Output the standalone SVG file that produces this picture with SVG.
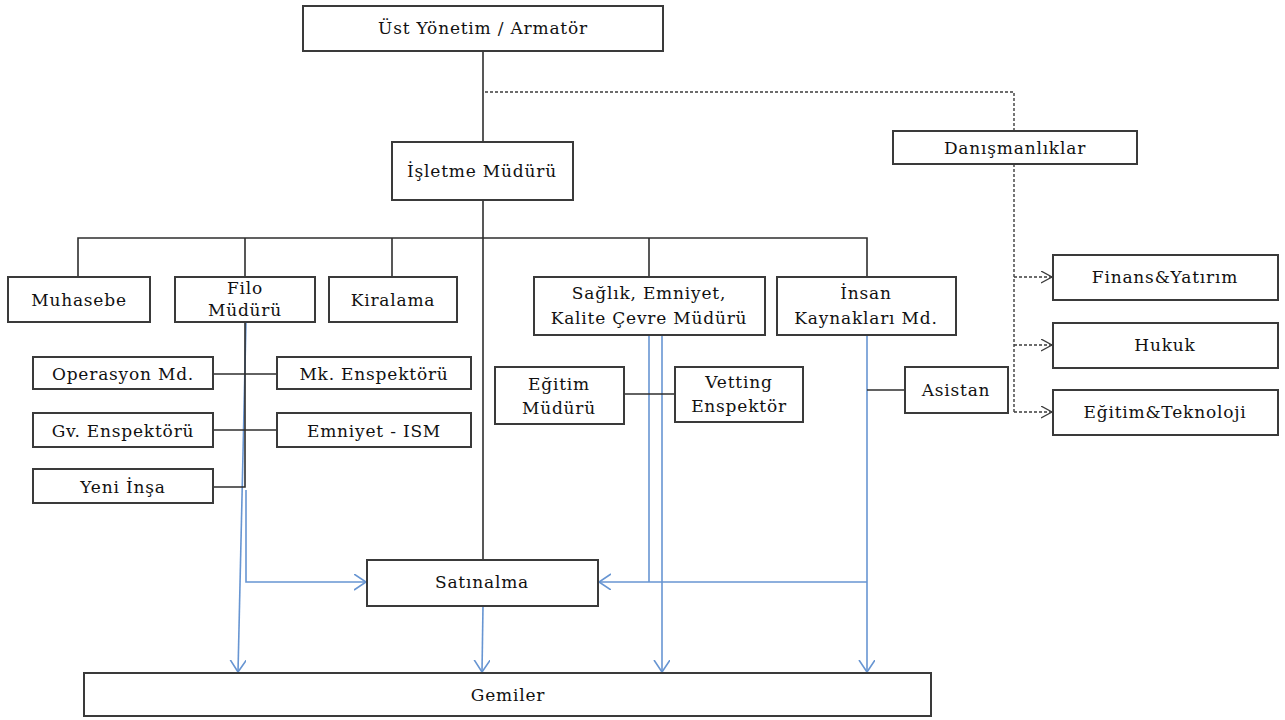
<svg xmlns="http://www.w3.org/2000/svg" width="1285" height="720" viewBox="0 0 1285 720">
  <defs>
    <style>
      .box { fill: #ffffff; stroke: #3a3a3a; stroke-width: 2; }
      .lbl { font-family: "DejaVu Serif", "Liberation Serif", serif; font-size: 17px; letter-spacing: 0.8px; fill: #111111; text-anchor: middle; dominant-baseline: central; }
      .solid { fill: none; stroke: #2e2e2e; stroke-width: 1.6; }
      .dash { fill: none; stroke: #3c3c3c; stroke-width: 1.4; stroke-dasharray: 3 2; }
      .blue { fill: none; stroke: #6795d2; stroke-width: 1.6; }
    </style>
    <marker id="arrBlue" markerUnits="userSpaceOnUse" markerWidth="16" markerHeight="20" refX="12" refY="8" orient="auto">
      <path d="M0,0 L12,8 L0,16" fill="none" stroke="#6795d2" stroke-width="1.6"/>
    </marker>
    <marker id="arrDash" markerUnits="userSpaceOnUse" markerWidth="14" markerHeight="16" refX="11" refY="6" orient="auto">
      <path d="M0,0 L11,6 L0,12" fill="none" stroke="#3c3c3c" stroke-width="1.3"/>
    </marker>
  </defs>
  <rect width="1285" height="720" fill="#ffffff"/>

  <!-- connectors -->
  <g id="connectors">
    <!-- supply / ship flows (blue), drawn beneath the solid hierarchy lines -->
    <path class="blue" d="M246,322 L238,672" marker-end="url(#arrBlue)"/>
    <path class="blue" d="M246,490 V582 H366" marker-end="url(#arrBlue)"/>
    <path class="blue" d="M483,606 L482,672" marker-end="url(#arrBlue)"/>
    <path class="blue" d="M649,335 V582"/>
    <path class="blue" d="M662,335 V672" marker-end="url(#arrBlue)"/>
    <path class="blue" d="M867,335 V672" marker-end="url(#arrBlue)"/>
    <path class="blue" d="M867,582 H599" marker-end="url(#arrBlue)"/>

    <!-- hierarchy (solid) -->
    <path class="solid" d="M483,51 V142"/>
    <path class="solid" d="M483,200 V560"/>
    <path class="solid" d="M78,277 V238 H867 V277"/>
    <path class="solid" d="M245,238 V277"/>
    <path class="solid" d="M392,238 V277"/>
    <path class="solid" d="M649,238 V277"/>
    <path class="solid" d="M213,374 H277"/>
    <path class="solid" d="M213,430 H277"/>
    <path class="solid" d="M245,322 V487 H213"/>
    <path class="solid" d="M624,394 H675"/>
    <path class="solid" d="M867,390 H905"/>

    <!-- advisory (dashed) -->
    <path class="dash" d="M485,92 H1014 V131"/>
    <path class="dash" d="M1014,164 V412"/>
    <path class="dash" d="M1014,277 H1052" marker-end="url(#arrDash)"/>
    <path class="dash" d="M1014,345 H1052" marker-end="url(#arrDash)"/>
    <path class="dash" d="M1014,412 H1052" marker-end="url(#arrDash)"/>
  </g>

  <!-- nodes -->
  <g id="ust-yonetim">
    <rect class="box" x="303" y="6" width="360" height="45"/>
    <text class="lbl" x="483" y="28">Üst Yönetim / Armatör</text>
  </g>
  <g id="isletme-muduru">
    <rect class="box" x="392" y="142" width="181" height="58"/>
    <text class="lbl" x="482" y="171">İşletme Müdürü</text>
  </g>
  <g id="danismanliklar">
    <rect class="box" x="893" y="131" width="244" height="33"/>
    <text class="lbl" x="1015" y="148">Danışmanlıklar</text>
  </g>
  <g id="finans">
    <rect class="box" x="1053" y="255" width="225" height="45"/>
    <text class="lbl" x="1165" y="277">Finans&amp;Yatırım</text>
  </g>
  <g id="hukuk">
    <rect class="box" x="1053" y="323" width="225" height="45"/>
    <text class="lbl" x="1165" y="345">Hukuk</text>
  </g>
  <g id="egitim-teknoloji">
    <rect class="box" x="1053" y="390" width="225" height="45"/>
    <text class="lbl" x="1165" y="412">Eğitim&amp;Teknoloji</text>
  </g>
  <g id="muhasebe">
    <rect class="box" x="8" y="277" width="142" height="45"/>
    <text class="lbl" x="79" y="300">Muhasebe</text>
  </g>
  <g id="filo-muduru">
    <rect class="box" x="175" y="277" width="140" height="45"/>
    <text class="lbl" x="245" y="288">Filo</text>
    <text class="lbl" x="245" y="310">Müdürü</text>
  </g>
  <g id="kiralama">
    <rect class="box" x="329" y="277" width="128" height="45"/>
    <text class="lbl" x="393" y="300">Kiralama</text>
  </g>
  <g id="saglik-emniyet">
    <rect class="box" x="534" y="277" width="231" height="58"/>
    <text class="lbl" x="649" y="293">Sağlık, Emniyet,</text>
    <text class="lbl" x="649" y="318">Kalite Çevre Müdürü</text>
  </g>
  <g id="insan-kaynaklari">
    <rect class="box" x="777" y="277" width="179" height="58"/>
    <text class="lbl" x="866" y="293">İnsan</text>
    <text class="lbl" x="866" y="318">Kaynakları Md.</text>
  </g>
  <g id="operasyon">
    <rect class="box" x="33" y="357" width="180" height="32"/>
    <text class="lbl" x="123" y="374">Operasyon Md.</text>
  </g>
  <g id="mk-enspektoru">
    <rect class="box" x="277" y="357" width="194" height="32"/>
    <text class="lbl" x="374" y="374">Mk. Enspektörü</text>
  </g>
  <g id="gv-enspektoru">
    <rect class="box" x="33" y="413" width="180" height="34"/>
    <text class="lbl" x="123" y="431">Gv. Enspektörü</text>
  </g>
  <g id="emniyet-ism">
    <rect class="box" x="277" y="413" width="194" height="34"/>
    <text class="lbl" x="374" y="431">Emniyet - ISM</text>
  </g>
  <g id="yeni-insa">
    <rect class="box" x="33" y="469" width="180" height="34"/>
    <text class="lbl" x="123" y="487">Yeni İnşa</text>
  </g>
  <g id="egitim-muduru">
    <rect class="box" x="495" y="367" width="129" height="57"/>
    <text class="lbl" x="559" y="384">Eğitim</text>
    <text class="lbl" x="559" y="408">Müdürü</text>
  </g>
  <g id="vetting">
    <rect class="box" x="675" y="367" width="128" height="55"/>
    <text class="lbl" x="739" y="382">Vetting</text>
    <text class="lbl" x="739" y="406">Enspektör</text>
  </g>
  <g id="asistan">
    <rect class="box" x="905" y="367" width="103" height="46"/>
    <text class="lbl" x="956" y="390">Asistan</text>
  </g>
  <g id="satinalma">
    <rect class="box" x="367" y="560" width="231" height="46"/>
    <text class="lbl" x="482" y="582">Satınalma</text>
  </g>
  <g id="gemiler">
    <rect class="box" x="84" y="673" width="847" height="43"/>
    <text class="lbl" x="508" y="695">Gemiler</text>
  </g>
</svg>
